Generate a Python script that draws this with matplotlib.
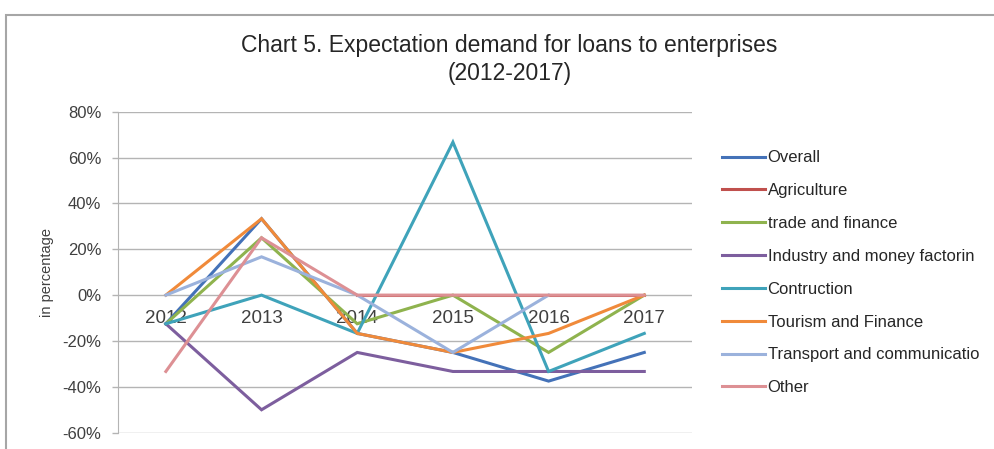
import numpy as np
import matplotlib.pyplot as plt
from matplotlib.patches import Rectangle
from matplotlib.ticker import PercentFormatter

years = ["2012", "2013", "2014", "2015", "2016", "2017"]

overall = [-12.5, 33.3, -16.7, -25.0, -37.5, -25.0]
agriculture = [np.nan, np.nan, 0.0, 0.0, 0.0, 0.0]
trade = [-12.5, 25.0, -12.5, 0.0, -25.0, 0.0]
industry = [-12.5, -50.0, -25.0, -33.3, -33.3, -33.3]
construction = [-12.5, 0.0, -16.7, 66.7, -33.3, -16.7]
tourism = [0.0, 33.3, -16.7, -25.0, -16.7, 0.0]
transport = [0.0, 16.7, 0.0, -25.0, 0.0, np.nan]
other = [-33.3, 25.0, 0.0, 0.0, 0.0, 0.0]

series = [
    ("Overall", overall, "#4472B8"),
    ("Agriculture", agriculture, "#C0504D"),
    ("trade and finance", trade, "#8FB34E"),
    ("Industry and money factorin", industry, "#7D5E9E"),
    ("Contruction", construction, "#3FA3BA"),
    ("Tourism and Finance", tourism, "#F08A3A"),
    ("Transport and communicatio", transport, "#9BB2DC"),
    ("Other", other, "#DD9094"),
]

plt.rcParams['font.family'] = ['Liberation Sans', 'DejaVu Sans']
plt.rcParams['axes.unicode_minus'] = False
txt = "#404040"

fig = plt.figure(figsize=(9.95, 4.49), dpi=100)
# chart frame
fig.patches.append(Rectangle((0.006, -0.1), 1.1, 1.066, transform=fig.transFigure,
                             fill=False, edgecolor="#A6A6A6", linewidth=1.5))

ax = fig.add_axes([0.1186, 0.0363, 0.577, 0.715])
x = np.arange(len(years))
for name, vals, col in series:
    ax.plot(x, vals, color=col, linewidth=2.2, label=name, solid_joinstyle="miter")

ax.set_xlim(-0.5, len(years) - 0.5)
ax.set_ylim(-60, 80)
ax.set_yticks(np.arange(-60, 81, 20))
ax.yaxis.set_major_formatter(PercentFormatter(decimals=0))
ax.grid(axis="y", color="#B4B4B4", linewidth=1)
ax.set_axisbelow(True)

# category labels sit on the zero line
ax.set_xticks(x)
ax.set_xticklabels(years)
ax.spines["bottom"].set_position(("data", 0))
ax.spines["bottom"].set_visible(False)
ax.spines["top"].set_visible(False)
ax.spines["right"].set_visible(False)
ax.spines["left"].set_color("#B4B4B4")
ax.tick_params(axis="x", length=0, pad=11, labelsize=13.5, colors=txt)
ax.tick_params(axis="y", length=4, width=1, color="#B4B4B4", pad=8, labelsize=12,
               labelcolor=txt)
ax.set_ylabel("in percentage", fontsize=10.5, color=txt, labelpad=6)

fig.text(0.512, 0.898, "Chart 5. Expectation demand for loans to enterprises",
         ha="center", va="center", fontsize=16.5, color="#262626")
fig.text(0.512, 0.836, "(2012-2017)",
         ha="center", va="center", fontsize=16.5, color="#262626")

leg = ax.legend(loc="upper left", bbox_to_anchor=(1.04, 0.9), frameon=False,
                fontsize=12, handlelength=2.6, handletextpad=0.15,
                labelspacing=1.07, borderaxespad=0)
for t in leg.get_texts():
    t.set_color("#262626")

fig.savefig("out.png", dpi=100)
